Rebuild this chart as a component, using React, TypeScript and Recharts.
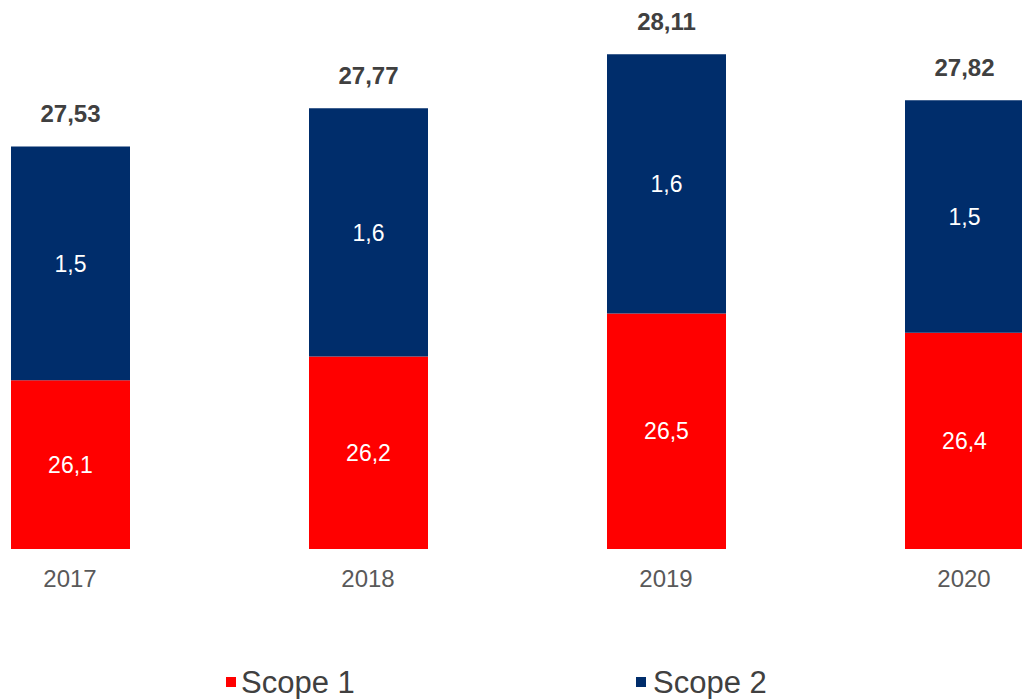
import { Bar, BarChart, LabelList, XAxis, YAxis } from "recharts";

const years = ["2017", "2018", "2019", "2020"];
const scope1 = [26.06, 26.21, 26.48, 26.36];
const scope2 = [1.47, 1.56, 1.63, 1.46];
const totals = [27.53, 27.77, 28.11, 27.82];

const seriesColors = { scope1: "#FF0000", scope2: "#002D6B" };
const font = "'Liberation Sans', Arial, sans-serif";

const data = years.map((year, i) => ({
  year,
  scope1: scope1[i],
  scope2: scope2[i],
  total: totals[i]
}));

const comma = (digits: number) => (v: unknown) =>
  Number(v).toFixed(digits).replace(".", ",");

const legendItems = [
  { name: "Scope 1", color: seriesColors.scope1, box: 226, text: 241 },
  { name: "Scope 2", color: seriesColors.scope2, box: 636, text: 653 }
];

export default function App() {
  return (
    <div
      style={{
        position: "fixed",
        left: 0,
        top: 0,
        width: 1022,
        height: 699,
        overflow: "hidden",
        background: "#fff",
        fontFamily: font
      }}
    >
      <div style={{ position: "absolute", left: -79, top: 0 }}>
        <BarChart
          width={1192}
          height={600}
          data={data}
          margin={{ top: 20, right: 0, left: 0, bottom: 0 }}
        >
          <XAxis
            dataKey="year"
            height={51}
            axisLine={false}
            tickLine={false}
            tickMargin={15}
            tick={{ fill: "#595959", fontSize: 24, fontFamily: font }}
          />
          <YAxis hide domain={[25, 28.325]} allowDataOverflow />
          <Bar
            dataKey="scope1"
            stackId="s"
            fill={seriesColors.scope1}
            barSize={119}
            isAnimationActive={false}
          >
            <LabelList
              dataKey="scope1"
              position="center"
              formatter={comma(1)}
              fill="#fff"
              fontSize={23}
              fontFamily={font}
            />
          </Bar>
          <Bar
            dataKey="scope2"
            stackId="s"
            fill={seriesColors.scope2}
            barSize={119}
            isAnimationActive={false}
          >
            <LabelList
              dataKey="scope2"
              position="center"
              formatter={comma(1)}
              fill="#fff"
              fontSize={23}
              fontFamily={font}
            />
            <LabelList
              dataKey="total"
              position="top"
              offset={24}
              formatter={comma(2)}
              fill="#404040"
              fontSize={24}
              fontWeight="bold"
              fontFamily={font}
            />
          </Bar>
        </BarChart>
      </div>
      {legendItems.map((item) => (
        <div key={item.name}>
          <div
            style={{
              position: "absolute",
              left: item.box,
              top: 677,
              width: 10,
              height: 10,
              background: item.color
            }}
          />
          <div
            style={{
              position: "absolute",
              left: item.text,
              top: 667,
              fontSize: 31,
              lineHeight: 1,
              color: "#404040",
              whiteSpace: "nowrap"
            }}
          >
            {item.name}
          </div>
        </div>
      ))}
    </div>
  );
}
